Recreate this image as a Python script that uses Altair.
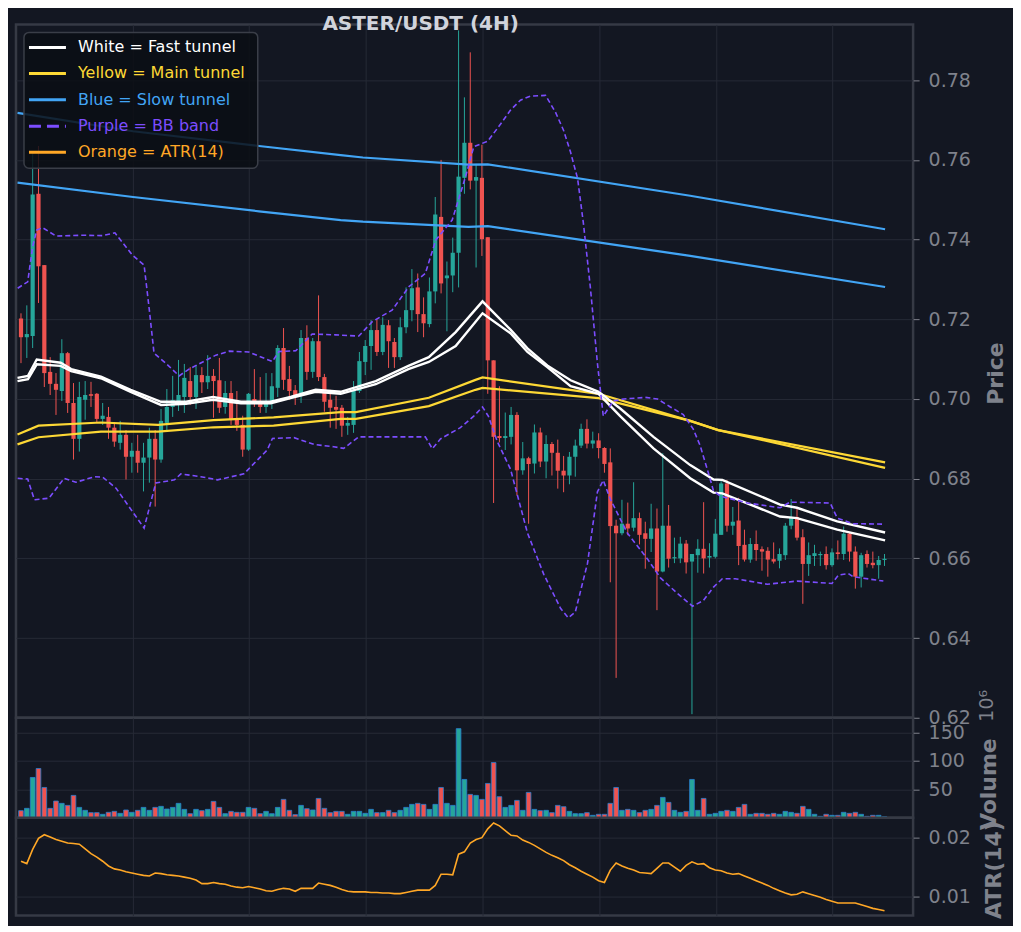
import altair as alt
import pandas as pd

# ---------------- data ----------------
opens = [
    0.7202, 0.7155, 0.7158, 0.7515, 0.7336, 0.7068, 0.7038, 0.7020, 0.7115, 0.6990,
    0.6900, 0.6998, 0.7012, 0.7013, 0.6950, 0.6955, 0.6928, 0.6890, 0.6910, 0.6855,
    0.6870, 0.6840, 0.6853, 0.6900, 0.6848, 0.6940, 0.6980, 0.6995, 0.7005, 0.7045,
    0.7005, 0.7060, 0.7042, 0.7058, 0.7047, 0.6980, 0.7015, 0.6948, 0.6935, 0.6873,
    0.7000, 0.6995, 0.6980, 0.6990, 0.7028, 0.7128, 0.7050, 0.7022, 0.7015, 0.7153,
    0.7068, 0.7145, 0.7055, 0.6998, 0.6980, 0.6978, 0.6933, 0.6935, 0.7020, 0.7093,
    0.7133, 0.7173, 0.7118, 0.7185, 0.7143, 0.7105, 0.7180, 0.7223, 0.7280, 0.7213,
    0.7188, 0.7270, 0.7457, 0.7303, 0.7310, 0.7367, 0.7555, 0.7643, 0.7548, 0.7555,
    0.7406, 0.7097, 0.6907, 0.6902, 0.6905, 0.6960, 0.6821, 0.6851, 0.6838, 0.6916,
    0.6843, 0.6887, 0.6865, 0.6820, 0.6808, 0.6855, 0.6883, 0.6925, 0.6888, 0.6896,
    0.6877, 0.6841, 0.6682, 0.6663, 0.6687, 0.6677, 0.6701, 0.6663, 0.6649, 0.6675,
    0.6567, 0.6682, 0.6600, 0.6600, 0.6637, 0.6592, 0.6608, 0.6624, 0.6602, 0.6604,
    0.6659, 0.6788, 0.6682, 0.6695, 0.6634, 0.6597, 0.6636, 0.6623, 0.6619, 0.6598,
    0.6594, 0.6608, 0.6682, 0.6704, 0.6653, 0.6586, 0.6606, 0.6608, 0.6611, 0.6583,
    0.6615, 0.6611, 0.6662, 0.6617, 0.6554, 0.6611, 0.6589, 0.6583, 0.6596,
]
highs = [
    0.7215, 0.7235, 0.7620, 0.7635, 0.7336, 0.7105, 0.7065, 0.7150, 0.7118, 0.7040,
    0.7043, 0.7045, 0.7043, 0.7015, 0.6990, 0.6980, 0.6940, 0.6945, 0.6922, 0.6890,
    0.6910, 0.6890, 0.6928, 0.6922, 0.6975, 0.7025, 0.7058, 0.7098, 0.7088, 0.7080,
    0.7085, 0.7080, 0.7110, 0.7075, 0.7103, 0.7045, 0.7045, 0.7020, 0.6958, 0.7015,
    0.7075, 0.7055, 0.7065, 0.7065, 0.7135, 0.7178, 0.7083, 0.7035, 0.7173, 0.7185,
    0.7153, 0.7260, 0.7063, 0.7023, 0.7008, 0.6985, 0.6955, 0.7045, 0.7118, 0.7148,
    0.7198, 0.7200, 0.7205, 0.7198, 0.7153, 0.7205, 0.7280, 0.7326, 0.7315, 0.7255,
    0.7305, 0.7507, 0.7600, 0.7345, 0.7405, 0.7925, 0.7757, 0.7870, 0.7590, 0.7638,
    0.7406, 0.7097, 0.7032, 0.6966, 0.6980, 0.6967, 0.6892, 0.6855, 0.6936, 0.6928,
    0.6909, 0.6892, 0.6898, 0.6857, 0.6867, 0.6898, 0.6938, 0.6949, 0.6918, 0.6914,
    0.6879, 0.6876, 0.6697, 0.6747, 0.6740, 0.6791, 0.6715, 0.6692, 0.6737, 0.6725,
    0.6864, 0.6734, 0.6652, 0.6654, 0.6646, 0.6611, 0.6648, 0.6741, 0.6638, 0.6699,
    0.6794, 0.6797, 0.6729, 0.6752, 0.6672, 0.6651, 0.6670, 0.6630, 0.6628, 0.6640,
    0.6625, 0.6689, 0.6749, 0.6724, 0.6673, 0.6640, 0.6634, 0.6617, 0.6630, 0.6625,
    0.6645, 0.6680, 0.6665, 0.6630, 0.6614, 0.6620, 0.6617, 0.6606, 0.6611,
]
lows = [
    0.7090, 0.7103, 0.7128, 0.7241, 0.7030, 0.7010, 0.6960, 0.6995, 0.6965, 0.6848,
    0.6868, 0.6948, 0.6980, 0.6940, 0.6935, 0.6900, 0.6880, 0.6873, 0.6798, 0.6815,
    0.6815, 0.6768, 0.6790, 0.6730, 0.6840, 0.6920, 0.6955, 0.6970, 0.6965, 0.6985,
    0.6975, 0.7015, 0.7025, 0.6953, 0.6965, 0.6963, 0.6935, 0.6920, 0.6855, 0.6870,
    0.6980, 0.6965, 0.6965, 0.6975, 0.7005, 0.7023, 0.6998, 0.6985, 0.6990, 0.7048,
    0.7053, 0.7045, 0.6968, 0.6928, 0.6925, 0.6905, 0.6910, 0.6915, 0.7015, 0.7060,
    0.7073, 0.7108, 0.7110, 0.7078, 0.7078, 0.7098, 0.7165, 0.7195, 0.7168, 0.7155,
    0.7180, 0.7240, 0.7265, 0.7170, 0.7268, 0.7280, 0.7515, 0.7526, 0.7330, 0.7359,
    0.7013, 0.6739, 0.6891, 0.6872, 0.6886, 0.6758, 0.6810, 0.6687, 0.6813, 0.6829,
    0.6801, 0.6808, 0.6775, 0.6766, 0.6786, 0.6805, 0.6877, 0.6876, 0.6876, 0.6851,
    0.6815, 0.6540, 0.6300, 0.6658, 0.6658, 0.6668, 0.6635, 0.6574, 0.6616, 0.6470,
    0.6565, 0.6577, 0.6588, 0.6588, 0.6562, 0.6209, 0.6564, 0.6562, 0.6577, 0.6600,
    0.6659, 0.6667, 0.6659, 0.6583, 0.6592, 0.6589, 0.6594, 0.6569, 0.6554, 0.6587,
    0.6575, 0.6596, 0.6673, 0.6645, 0.6486, 0.6556, 0.6581, 0.6581, 0.6572, 0.6579,
    0.6597, 0.6596, 0.6592, 0.6524, 0.6527, 0.6577, 0.6575, 0.6549, 0.6581,
]
closes = [
    0.7155, 0.7163, 0.7513, 0.7333, 0.7065, 0.7038, 0.7023, 0.7115, 0.6990, 0.6900,
    0.7005, 0.7010, 0.7008, 0.6950, 0.6958, 0.6928, 0.6893, 0.6910, 0.6855, 0.6870,
    0.6840, 0.6853, 0.6900, 0.6848, 0.6945, 0.6980, 0.6997, 0.7010, 0.7053, 0.7005,
    0.7060, 0.7042, 0.7058, 0.7045, 0.6978, 0.7015, 0.6948, 0.6935, 0.6873, 0.7013,
    0.6995, 0.6980, 0.6995, 0.7032, 0.7128, 0.7048, 0.7020, 0.7010, 0.7153, 0.7068,
    0.7145, 0.7055, 0.6993, 0.6978, 0.6973, 0.6933, 0.6940, 0.7023, 0.7095, 0.7133,
    0.7173, 0.7118, 0.7186, 0.7145, 0.7105, 0.7180, 0.7223, 0.7278, 0.7213, 0.7190,
    0.7270, 0.7463, 0.7290, 0.7310, 0.7367, 0.7558, 0.7643, 0.7548, 0.7557, 0.7401,
    0.7097, 0.6905, 0.6902, 0.6907, 0.6960, 0.6821, 0.6851, 0.6837, 0.6916, 0.6843,
    0.6887, 0.6865, 0.6820, 0.6808, 0.6855, 0.6883, 0.6925, 0.6888, 0.6896, 0.6877,
    0.6837, 0.6681, 0.6663, 0.6687, 0.6675, 0.6701, 0.6659, 0.6649, 0.6675, 0.6567,
    0.6682, 0.6599, 0.6602, 0.6637, 0.6590, 0.6611, 0.6624, 0.6600, 0.6606, 0.6662,
    0.6788, 0.6682, 0.6692, 0.6631, 0.6597, 0.6636, 0.6621, 0.6617, 0.6597, 0.6592,
    0.6611, 0.6682, 0.6704, 0.6652, 0.6586, 0.6608, 0.6613, 0.6611, 0.6583, 0.6615,
    0.6611, 0.6662, 0.6617, 0.6554, 0.6608, 0.6586, 0.6583, 0.6596, 0.6599,
]
# volume in units of 10^6
volumes = [
    12.3, 16.4, 70.8, 86.6, 53.2, 16.4, 29.3, 25.2, 21.6, 39.2,
    18.1, 12.9, 8.8, 8.8, 5.9, 9.4, 11.1, 7.6, 13.5, 9.4,
    12.9, 18.1, 12.9, 18.1, 19.9, 15.2, 18.1, 25.2, 14.6, 7.0,
    14.6, 12.3, 14.6, 28.7, 18.1, 7.0, 11.1, 9.4, 9.4, 18.1,
    16.4, 7.0, 11.1, 7.0, 18.1, 32.2, 12.9, 5.3, 21.6, 15.8,
    13.5, 33.9, 16.4, 8.8, 11.1, 11.1, 5.9, 11.1, 11.1, 7.6,
    14.6, 8.8, 8.8, 12.9, 8.8, 12.9, 18.1, 23.4, 25.2, 23.4,
    14.6, 23.4, 53.2, 25.2, 21.6, 156.8, 67.3, 41.0, 39.2, 32.2,
    60.3, 97.1, 36.9, 18.1, 21.6, 30.4, 12.9, 44.5, 14.6, 12.3,
    12.9, 8.8, 21.6, 19.3, 11.1, 7.0, 7.0, 8.8, 4.1, 5.9,
    5.9, 25.2, 53.2, 12.9, 14.6, 12.9, 8.8, 12.9, 14.6, 21.6,
    35.7, 26.9, 12.9, 9.4, 11.1, 67.3, 12.9, 33.9, 5.9, 7.6,
    11.1, 12.9, 11.1, 18.1, 23.4, 5.9, 7.6, 7.6, 5.9, 7.6,
    5.9, 11.1, 9.4, 7.6, 19.9, 14.6, 5.9, 2.3, 5.9, 4.1,
    4.1, 9.4, 7.6, 9.4, 5.9, 2.3, 4.1, 4.1, 1.5,
]
atr14 = [
    0.0160, 0.0156, 0.0180, 0.0199, 0.0205, 0.0201, 0.0197, 0.0194, 0.0191, 0.0190,
    0.0189, 0.0181, 0.0173, 0.0167, 0.0160, 0.0152, 0.0147, 0.0145, 0.0142, 0.0140,
    0.0138, 0.0136, 0.0135, 0.0140, 0.0139, 0.0137, 0.0136, 0.0135, 0.0133, 0.0131,
    0.0128, 0.0122, 0.0122, 0.0124, 0.0122, 0.0121, 0.0118, 0.0116, 0.0115, 0.0117,
    0.0115, 0.0113, 0.0110, 0.0109, 0.0112, 0.0114, 0.0113, 0.0109, 0.0114, 0.0114,
    0.0114, 0.0123, 0.0121, 0.0119, 0.0116, 0.0112, 0.0109, 0.0108, 0.0108, 0.0108,
    0.0107, 0.0107, 0.0106, 0.0106, 0.0105, 0.0105, 0.0107, 0.0109, 0.0111, 0.0111,
    0.0111, 0.0119, 0.0138, 0.0138, 0.0137, 0.0172, 0.0176, 0.0191, 0.0197, 0.0200,
    0.0215, 0.0225, 0.0220, 0.0212, 0.0204, 0.0203, 0.0196, 0.0192, 0.0187, 0.0181,
    0.0175, 0.0170, 0.0166, 0.0161, 0.0154, 0.0149, 0.0143, 0.0138, 0.0133, 0.0127,
    0.0124, 0.0145, 0.0157, 0.0152, 0.0148, 0.0145, 0.0141, 0.0140, 0.0139, 0.0148,
    0.0157, 0.0157, 0.0150, 0.0143, 0.0153, 0.0159, 0.0155, 0.0156, 0.0149, 0.0145,
    0.0144, 0.0140, 0.0138, 0.0139, 0.0135, 0.0131, 0.0127, 0.0123, 0.0119, 0.0114,
    0.0110, 0.0106, 0.0103, 0.0104, 0.0108, 0.0105, 0.0102, 0.0099, 0.0095, 0.0092,
    0.0089, 0.0089, 0.0089, 0.0089, 0.0086, 0.0083, 0.0080, 0.0078, 0.0076,
]

# tunnels and Bollinger band, as (candle index, price) readings
fast_upper = [(-0.6, 0.7053), (1.2, 0.7058), (2.7, 0.7099), (6.8, 0.7091), (8.6, 0.7075),
              (13.7, 0.7056), (18.8, 0.7023), (24.0, 0.6993), (28.3, 0.6993), (32.9, 0.7005),
              (37.7, 0.6993), (42.8, 0.6993), (46.2, 0.7005), (50.5, 0.7023), (54.8, 0.7018),
              (60.8, 0.7045), (66.4, 0.7083), (69.9, 0.7105), (74.5, 0.7168), (79.1, 0.7245),
              (83.9, 0.7174), (86.8, 0.7127), (90.2, 0.7084), (94.2, 0.7047), (99.0, 0.7018),
              (102.7, 0.6976), (108.4, 0.6905), (114.7, 0.6834), (118.7, 0.6798), (120.2, 0.6797),
              (130.1, 0.6735), (133.0, 0.6727), (139.9, 0.6693), (148.1, 0.6665)]
fast_lower = [(-0.6, 0.7045), (1.2, 0.7050), (2.7, 0.7087), (6.8, 0.7083), (8.6, 0.7070),
              (13.7, 0.7052), (18.8, 0.7018), (24.0, 0.6985), (28.3, 0.6988), (32.9, 0.6998),
              (37.7, 0.6989), (42.8, 0.6989), (46.2, 0.7002), (50.5, 0.7018), (54.8, 0.7013),
              (60.8, 0.7037), (66.4, 0.7075), (69.9, 0.7093), (74.5, 0.7133), (79.1, 0.7215),
              (83.9, 0.7165), (86.8, 0.7118), (90.2, 0.7080), (94.2, 0.7032), (99.0, 0.7013),
              (102.7, 0.6957), (108.4, 0.6876), (114.7, 0.6801), (118.7, 0.6765), (120.2, 0.6763),
              (130.1, 0.6705), (133.0, 0.6701), (139.9, 0.6672), (148.1, 0.6645)]
main_fast = [(-0.6, 0.6911), (3.0, 0.6933), (13.7, 0.6941), (23.5, 0.6935), (33.0, 0.6947),
             (43.3, 0.6954), (54.8, 0.6967), (57.4, 0.6967), (69.9, 0.7003), (77.9, 0.7048),
             (79.1, 0.7054), (99.0, 0.7013), (114.7, 0.6945), (119.5, 0.6922), (148.1, 0.6827)]
main_slow = [(-0.6, 0.6886), (3.0, 0.6904), (13.7, 0.6918), (23.5, 0.6918), (33.0, 0.6929),
             (43.3, 0.6933), (54.8, 0.6950), (57.4, 0.6950), (69.9, 0.6982), (77.9, 0.7023),
             (79.1, 0.7028), (99.0, 0.7002), (114.7, 0.6945), (119.5, 0.6922), (148.1, 0.6841)]
slow_upper = [(-0.6, 0.7718), (19.2, 0.7672), (40.8, 0.7635), (54.8, 0.7612), (58.6, 0.7606),
              (76.7, 0.7588), (80.0, 0.7589), (114.7, 0.7510), (148.1, 0.7426)]
slow_lower = [(-0.6, 0.7543), (19.2, 0.7507), (40.8, 0.7471), (54.8, 0.7449), (58.6, 0.7445),
              (76.7, 0.7432), (80.0, 0.7434), (114.7, 0.7359), (148.1, 0.7281)]
bb_upper = [(-0.57, 0.7278), (1.15, 0.7294), (2.0, 0.7382), (2.7, 0.7424), (3.7, 0.7430),
            (6.0, 0.7409), (10.6, 0.7411), (14.0, 0.7410), (16.1, 0.7417), (19.1, 0.7361),
            (21.1, 0.7336), (22.0, 0.7223), (22.8, 0.7115), (24.8, 0.7090), (27.1, 0.7058),
            (28.8, 0.7075), (33.4, 0.7110), (35.7, 0.7120), (39.0, 0.7118), (43.1, 0.7094),
            (44.2, 0.7119), (47.1, 0.7121), (49.9, 0.7163), (53.9, 0.7161), (57.9, 0.7158),
            (60.2, 0.7194), (63.6, 0.7223), (66.5, 0.7282), (69.3, 0.7315), (71.1, 0.7399),
            (73.9, 0.7449), (76.2, 0.7558), (77.6, 0.7633), (80.0, 0.7647), (82.2, 0.7690),
            (83.9, 0.7725), (85.6, 0.7750), (87.3, 0.7760), (89.9, 0.7762), (91.6, 0.7720),
            (93.0, 0.7674), (94.2, 0.7619), (95.4, 0.7553), (96.4, 0.7440), (97.6, 0.7278),
            (98.8, 0.7089), (99.8, 0.6957), (101.5, 0.6995), (103.3, 0.7000), (107.0, 0.7004),
            (109.1, 0.7000), (111.3, 0.6980), (113.5, 0.6961), (115.2, 0.6925), (116.4, 0.6883),
            (117.8, 0.6815), (118.7, 0.6769), (119.9, 0.6756), (124.5, 0.6739), (130.1, 0.6727),
            (131.8, 0.6741), (138.7, 0.6739), (139.9, 0.6701), (142.6, 0.6687), (147.6, 0.6686)]
bb_lower = [(-0.57, 0.6801), (1.15, 0.6799), (2.3, 0.6747), (4.8, 0.6751), (7.4, 0.6801),
            (9.4, 0.6791), (12.6, 0.6805), (14.0, 0.6804), (16.3, 0.6776), (18.5, 0.6730),
            (21.1, 0.6676), (23.1, 0.6789), (26.3, 0.6797), (27.4, 0.6812), (30.8, 0.6805),
            (33.7, 0.6797), (38.2, 0.6812), (42.2, 0.6872), (43.1, 0.6901), (46.8, 0.6903),
            (50.2, 0.6886), (53.6, 0.6880), (55.3, 0.6876), (57.9, 0.6905), (69.3, 0.6905),
            (70.5, 0.6875), (71.9, 0.6900), (75.3, 0.6928), (77.6, 0.6957), (79.1, 0.6980),
            (80.1, 0.6957), (81.7, 0.6891), (83.9, 0.6824), (86.8, 0.6664), (89.6, 0.6560),
            (92.5, 0.6474), (93.8, 0.6451), (95.0, 0.6465), (97.1, 0.6588), (98.8, 0.6767),
            (99.8, 0.6796), (101.0, 0.6749), (103.9, 0.6664), (107.4, 0.6598), (109.6, 0.6551),
            (112.5, 0.6512), (115.1, 0.6480), (116.95, 0.6494), (118.7, 0.6528), (120.2, 0.6549),
            (122.4, 0.6549), (127.9, 0.6535), (133.0, 0.6543), (139.0, 0.6537), (140.1, 0.6558),
            (141.8, 0.6562), (142.6, 0.6554), (147.8, 0.6543)]

price_ticks = [0.62, 0.64, 0.66, 0.68, 0.70, 0.72, 0.74, 0.76, 0.78]
volume_ticks = [50, 100, 150]
atr_ticks = [0.01, 0.02]
x_grid = [19.1, 39.1, 59.1, 79.1, 99.1, 119.1, 139.1]

legend_labels = ["White = Fast tunnel", "Yellow = Main tunnel", "Blue = Slow tunnel",
                 "Purple = BB band", "Orange = ATR(14)"]
title_text = "ASTER/USDT (4H)"

# ---------------- style ----------------
BG = "#131722"
GRID = "#262a36"
SPINE = "#363a45"
GRAY = "#7f828c"
UP = "#26a69a"
DOWN = "#ef5350"
WHITE = "#ffffff"
YELLOW = "#fdd835"
BLUE = "#42a5f5"
PURPLE = "#7c4dff"
ORANGE = "#ffa726"
EDGE = "#2a7fd0"
FONT = "DejaVu Sans"
legend_colors = [WHITE, YELLOW, BLUE, PURPLE, ORANGE]

W = 898
H_PRICE, H_VOL, H_ATR = 694, 100, 98

candles = pd.DataFrame({
    "i": list(range(len(opens))),
    "open": opens, "high": highs, "low": lows, "close": closes,
    "volume": volumes, "atr": atr14,
})
candles["dir"] = ["up" if c >= o else "down" for o, c in zip(opens, closes)]

XSCALE = alt.Scale(domain=[-0.856, 152.9], nice=False, zero=False)
XAXIS = alt.Axis(values=x_grid, labels=False, ticks=False, domain=False, title="", grid=True)


def xenc(field):
    return alt.X(f"{field}:Q", scale=XSCALE, axis=XAXIS)


COLOR = alt.Color("dir:N", scale=alt.Scale(domain=["up", "down"], range=[UP, DOWN]), legend=None)

PSCALE = alt.Scale(domain=[0.62, 0.794], nice=False, zero=False)
PAXIS = alt.Axis(orient="right", values=price_ticks, format=".2f", title="Price",
                 titleX=82, titleY=349, titleAngle=270, titleAlign="center",
                 titleBaseline="middle", grid=True)


def penc(field):
    return alt.Y(f"{field}:Q", scale=PSCALE, axis=PAXIS)


base = alt.Chart(candles)

wicks = base.mark_rule(strokeWidth=1).encode(x=xenc("i"), y=penc("low"), y2="high:Q", color=COLOR)
bodies = base.transform_calculate(
    xa="datum.i - 0.36", xb="datum.i + 0.36",
    bbot="min(datum.open, datum.close)",
    btop="max(max(datum.open, datum.close), min(datum.open, datum.close) + 0.0003)",
).mark_bar().encode(x=xenc("xa"), x2="xb:Q", y=penc("bbot"), y2="btop:Q", color=COLOR)


def line_layer(pairs, color, width, dash=None):
    df = pd.DataFrame(pairs, columns=["i", "p"])
    kw = dict(color=color, strokeWidth=width, clip=True)
    if dash:
        kw["strokeDash"] = dash
    return alt.Chart(df).mark_line(**kw).encode(x=xenc("i"), y=penc("p"))


one = pd.DataFrame({"k": [0]})
layers = [wicks, bodies,
          line_layer(main_fast, YELLOW, 2.2), line_layer(main_slow, YELLOW, 2.2),
          line_layer(slow_upper, BLUE, 2.2), line_layer(slow_lower, BLUE, 2.2),
          line_layer(fast_upper, WHITE, 2.4), line_layer(fast_lower, WHITE, 2.4),
          line_layer(bb_upper, PURPLE, 1.6, [5, 3]), line_layer(bb_lower, PURPLE, 1.6, [5, 3])]

# legend box
layers.append(alt.Chart(one).mark_rect(fill="#0b0e14", fillOpacity=0.85, stroke="#3a3e48",
                                      strokeWidth=1.5, cornerRadius=5).encode(
    x=alt.value(8), x2=alt.value(242), y=alt.value(8), y2=alt.value(144)))
row_y = [23, 49, 75.5, 102, 128]
for k, (lab, col) in enumerate(zip(legend_labels, legend_colors)):
    rkw = dict(color=col, strokeWidth=3)
    if k == 3:
        rkw["strokeDash"] = [12, 6]
    layers.append(alt.Chart(one).mark_rule(**rkw).encode(
        x=alt.value(13), x2=alt.value(50), y=alt.value(row_y[k])))
    layers.append(alt.Chart(pd.DataFrame({"label": [lab]})).mark_text(
        align="left", baseline="middle", fontSize=16, font=FONT, color=col).encode(
        x=alt.value(62), y=alt.value(row_y[k]), text="label:N"))

# title and offset text
layers.append(alt.Chart(pd.DataFrame({"t": [title_text]})).mark_text(
    align="center", baseline="middle", fontSize=20, fontWeight="bold", font=FONT,
    color="#d1d4dc").encode(x=alt.value(405), y=alt.value(0), text="t:N"))
layers.append(alt.Chart(pd.DataFrame({"t": ["10⁶"]})).mark_text(
    align="center", baseline="middle", fontSize=19, font=FONT, angle=270,
    color=GRAY).encode(x=alt.value(972), y=alt.value(682), text="t:N"))

price = alt.layer(*layers).properties(width=W, height=H_PRICE)

VAXIS = alt.Axis(orient="right", values=volume_ticks, format="d", title="Volume",
                 titleX=75, titleY=66, titleAngle=270, titleAlign="center",
                 titleBaseline="middle", grid=True)
vol = base.transform_calculate(xa="datum.i - 0.4", xb="datum.i + 0.4").mark_bar(
    stroke=EDGE, strokeWidth=0.8).encode(
    x=xenc("xa"), x2="xb:Q",
    y=alt.Y("volume:Q", scale=alt.Scale(domain=[0, 176], nice=False), axis=VAXIS),
    y2=alt.datum(0),
    color=COLOR).properties(width=W, height=H_VOL)

AAXIS = alt.Axis(orient="right", values=atr_ticks, format=".2f", title="ATR(14)",
                 titleX=80, titleY=52, titleAngle=270, titleAlign="center",
                 titleBaseline="middle", grid=True)
atrc = base.mark_line(color=ORANGE, strokeWidth=1.6, clip=True).encode(
    x=xenc("i"),
    y=alt.Y("atr:Q", scale=alt.Scale(domain=[0.00678, 0.0234], nice=False, zero=False), axis=AAXIS),
).properties(width=W, height=H_ATR)

chart = alt.vconcat(price, vol, atrc, spacing=0, bounds="flush").properties(
    padding={"left": 6, "top": 4, "right": 5, "bottom": 5},
    background=BG,
).configure_view(
    stroke=SPINE, strokeWidth=2.5,
).configure_axis(
    gridColor=GRID, gridWidth=1, domain=False,
    labelFont=FONT, labelFontSize=19, labelColor=GRAY, labelPadding=9,
    tickColor=GRAY, tickSize=6, tickWidth=1,
    titleFont=FONT, titleFontSize=22, titleFontWeight="bold", titleColor=GRAY,
)

chart.save("out.html", embed_options={"renderer": "svg", "actions": False})
